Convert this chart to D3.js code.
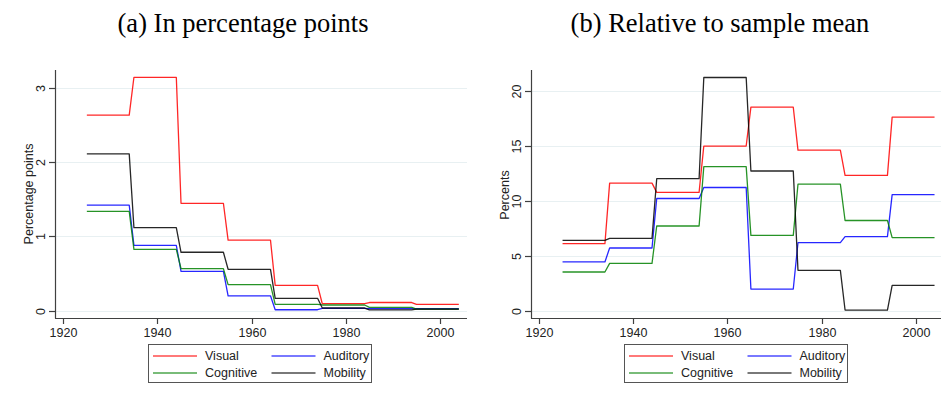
<!DOCTYPE html>
<html>
<head>
<meta charset="utf-8">
<script src="https://cdn.jsdelivr.net/npm/d3@7"></script>
<style>
  html, body { margin: 0; padding: 0; background: #fff; }
  svg { display: block; }
</style>
</head>
<body>
<svg id="chart" width="941" height="394"></svg>
<script>
// Birth cohorts (first year of each ten-year cohort)
const cohortStarts = [1925, 1935, 1945, 1955, 1965, 1975, 1985, 1995];
const cohortSpan = 9;

const seriesNames = ["Visual", "Auditory", "Cognitive", "Mobility"];
const seriesColors = ["#ff0000", "#0000ff", "#008000", "#000000"];

// Panel (a): percentage points
const visualPP    = [2.63, 3.14, 1.445, 0.95, 0.34, 0.094, 0.11, 0.086];
const auditoryPP  = [1.42, 0.88, 0.53, 0.20, 0.013, 0.03, 0.027, 0.027];
const cognitivePP = [1.335, 0.826, 0.565, 0.35, 0.086, 0.077, 0.045, 0.02];
const mobilityPP  = [2.11, 1.117, 0.786, 0.557, 0.167, 0.036, 0.01, 0.02];

// Panel (b): percent relative to sample mean
const visualRel    = [6.09, 11.6, 10.76, 14.97, 18.5, 14.6, 12.3, 17.6];
const auditoryRel  = [4.43, 5.7, 10.2, 11.2, 1.97, 6.18, 6.73, 10.55];
const cognitiveRel = [3.52, 4.3, 7.7, 13.1, 6.85, 11.5, 8.2, 6.64];
const mobilityRel  = [6.4, 6.58, 12.0, 21.2, 12.7, 3.67, 0.06, 2.3];

const xTicks = [1920, 1940, 1960, 1980, 2000];
const yTicksA = [0, 1, 2, 3];
const yTicksB = [0, 5, 10, 15, 20];

const svg = d3.select("#chart");
const font = "'Liberation Sans', Arial, sans-serif";

function panel(opts) {
  const g = svg.append("g");
  const x = d3.scaleLinear().domain([1920, 2000]).range([opts.x1920, opts.x2000]);
  const y = d3.scaleLinear().domain([0, opts.yRef]).range([opts.y0, opts.yRefPx]);
  const left = opts.axisX, right = opts.right, top = opts.top, bottom = opts.bottom;

  // gridlines
  g.selectAll("line.grid").data(opts.yTicks).join("line")
    .attr("x1", left + 1).attr("x2", right)
    .attr("y1", d => Math.round(y(d)) + 0.5).attr("y2", d => Math.round(y(d)) + 0.5)
    .attr("stroke", "#e8f0f2").attr("stroke-width", 1.2);

  // series lines (cohort step lines)
  const line = d3.line().x(d => x(d[0])).y(d => y(d[1]));
  opts.series.forEach((vals, i) => {
    const pts = [];
    cohortStarts.forEach((s, j) => { pts.push([s, vals[j]]); pts.push([s + cohortSpan, vals[j]]); });
    g.append("path").datum(pts)
      .attr("d", line).attr("fill", "none")
      .attr("stroke", seriesColors[i]).attr("stroke-width", 1.3)
      .attr("stroke-opacity", 0.85).attr("stroke-linejoin", "round");
  });

  // axes lines
  g.append("line").attr("x1", left + 0.5).attr("x2", left + 0.5).attr("y1", top).attr("y2", bottom + 0.5)
    .attr("stroke", "#404040").attr("stroke-width", 1.2);
  g.append("line").attr("x1", left).attr("x2", right).attr("y1", bottom + 0.5).attr("y2", bottom + 0.5)
    .attr("stroke", "#404040").attr("stroke-width", 1.2);

  // y ticks
  const yt = g.selectAll("g.yt").data(opts.yTicks).join("g")
    .attr("transform", d => `translate(${left},${Math.round(y(d)) + 0.5})`);
  yt.append("line").attr("x1", -6).attr("x2", 0).attr("stroke", "#404040").attr("stroke-width", 1.2);
  yt.append("text").text(d => d3.format("d")(d))
    .attr("transform", "translate(-10,0) rotate(-90)")
    .attr("text-anchor", "middle").attr("dy", "0")
    .attr("font-family", font).attr("font-size", 12.5).attr("fill", "#222");

  // x ticks
  const xt = g.selectAll("g.xt").data(xTicks).join("g")
    .attr("transform", d => `translate(${Math.round(x(d)) + 0.5},${bottom})`);
  xt.append("line").attr("y1", 0).attr("y2", 6).attr("stroke", "#404040").attr("stroke-width", 1.2);
  xt.append("text").text(d => d).attr("y", 19).attr("text-anchor", "middle")
    .attr("font-family", font).attr("font-size", 12.5).attr("fill", "#222");

  // y-axis title
  g.append("text").text(opts.yTitle)
    .attr("transform", `translate(${opts.yTitleX},${opts.yTitleY}) rotate(-90)`)
    .attr("text-anchor", "middle")
    .attr("font-family", font).attr("font-size", 12.5).attr("fill", "#222");

  // panel title
  g.append("text").text(opts.title)
    .attr("x", opts.titleX).attr("y", 32).attr("text-anchor", "middle")
    .attr("font-family", "'Liberation Serif', 'Times New Roman', serif")
    .attr("font-size", 26.5).attr("fill", "#000");

  // legend
  const lg = g.append("g").attr("transform", `translate(${opts.legendX},344)`);
  lg.append("rect").attr("x", 0.5).attr("y", 0.5).attr("width", 223).attr("height", 38)
    .attr("fill", "#fff").attr("stroke", "#555").attr("stroke-width", 1);
  const order = [[0, 0, 0], [1, 1, 0], [2, 0, 1], [3, 1, 1]];
  order.forEach(([si, col, row]) => {
    const ox = 5 + col * 118.5, oy = 11.5 + row * 17;
    lg.append("line").attr("x1", ox).attr("x2", ox + 44).attr("y1", oy + 0.5).attr("y2", oy + 0.5)
      .attr("stroke", seriesColors[si]).attr("stroke-width", 1.3).attr("stroke-opacity", 0.7);
    lg.append("text").text(seriesNames[si]).attr("x", ox + 52).attr("y", oy + 4.5)
      .attr("font-family", font).attr("font-size", 12.5).attr("fill", "#222");
  });
}

panel({
  x1920: 63.3, x2000: 440, axisX: 55, right: 467, top: 70, bottom: 318,
  y0: 310.7, yRef: 3, yRefPx: 87.7, yTicks: yTicksA,
  series: [visualPP, auditoryPP, cognitivePP, mobilityPP],
  yTitle: "Percentage points", yTitleX: 33, yTitleY: 194,
  title: "(a) In percentage points", titleX: 243, legendX: 148
});

panel({
  x1920: 539, x2000: 915.7, axisX: 531, right: 941, top: 70, bottom: 318,
  y0: 310.7, yRef: 20, yRefPx: 90.7, yTicks: yTicksB,
  series: [visualRel, auditoryRel, cognitiveRel, mobilityRel],
  yTitle: "Percents", yTitleX: 509, yTitleY: 195,
  title: "(b) Relative to sample mean", titleX: 720, legendX: 624
});
</script>
</body>
</html>
